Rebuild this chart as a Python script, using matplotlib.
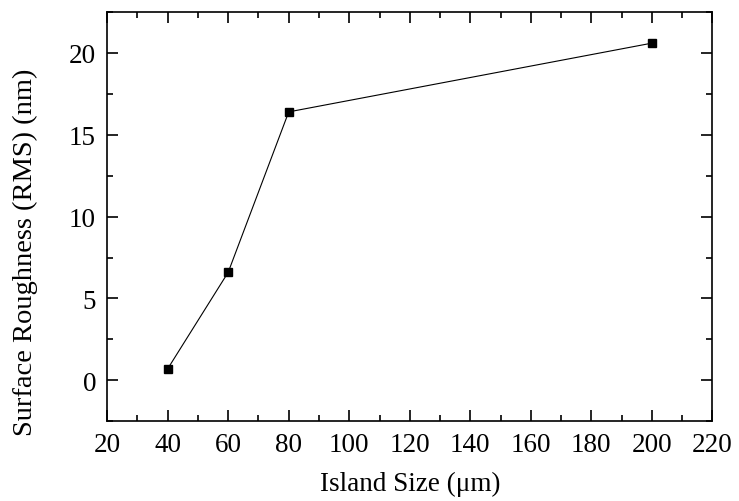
import numpy as np
from matplotlib import pyplot as plt
from matplotlib.ticker import MultipleLocator

island_size = [40, 60, 80, 200]
roughness = [0.7, 6.6, 16.4, 20.6]

plt.rcParams['font.family'] = ['Liberation Serif', 'DejaVu Serif']

fig = plt.figure(figsize=(7.39, 5.02), dpi=100)
ax = fig.add_axes([0.145, 0.159, 0.819, 0.815])

ax.plot(island_size, roughness, color='black', lw=0.8,
        marker='s', markersize=6, markerfacecolor='black')

ax.set_xlim(20, 220)
ax.set_ylim(-2.5, 22.5)
ax.xaxis.set_major_locator(MultipleLocator(20))
ax.xaxis.set_minor_locator(MultipleLocator(10))
ax.yaxis.set_major_locator(MultipleLocator(5))
ax.yaxis.set_minor_locator(MultipleLocator(2.5))

ax.tick_params(which='both', direction='in', top=True, right=True,
               labelsize=19.5, width=1.2)
ax.tick_params(which='major', length=8, pad=8)
ax.tick_params(which='minor', length=4.5)
for s in ax.spines.values():
    s.set_linewidth(1.2)

ax.set_xlabel('Island Size (\u03bcm)', fontsize=19.5, labelpad=10)
ax.set_ylabel('Surface Roughness (RMS) (nm)', fontsize=20.5)
ax.yaxis.set_label_coords(-0.115, 0.415)

fig.savefig('out.png', dpi=100)
